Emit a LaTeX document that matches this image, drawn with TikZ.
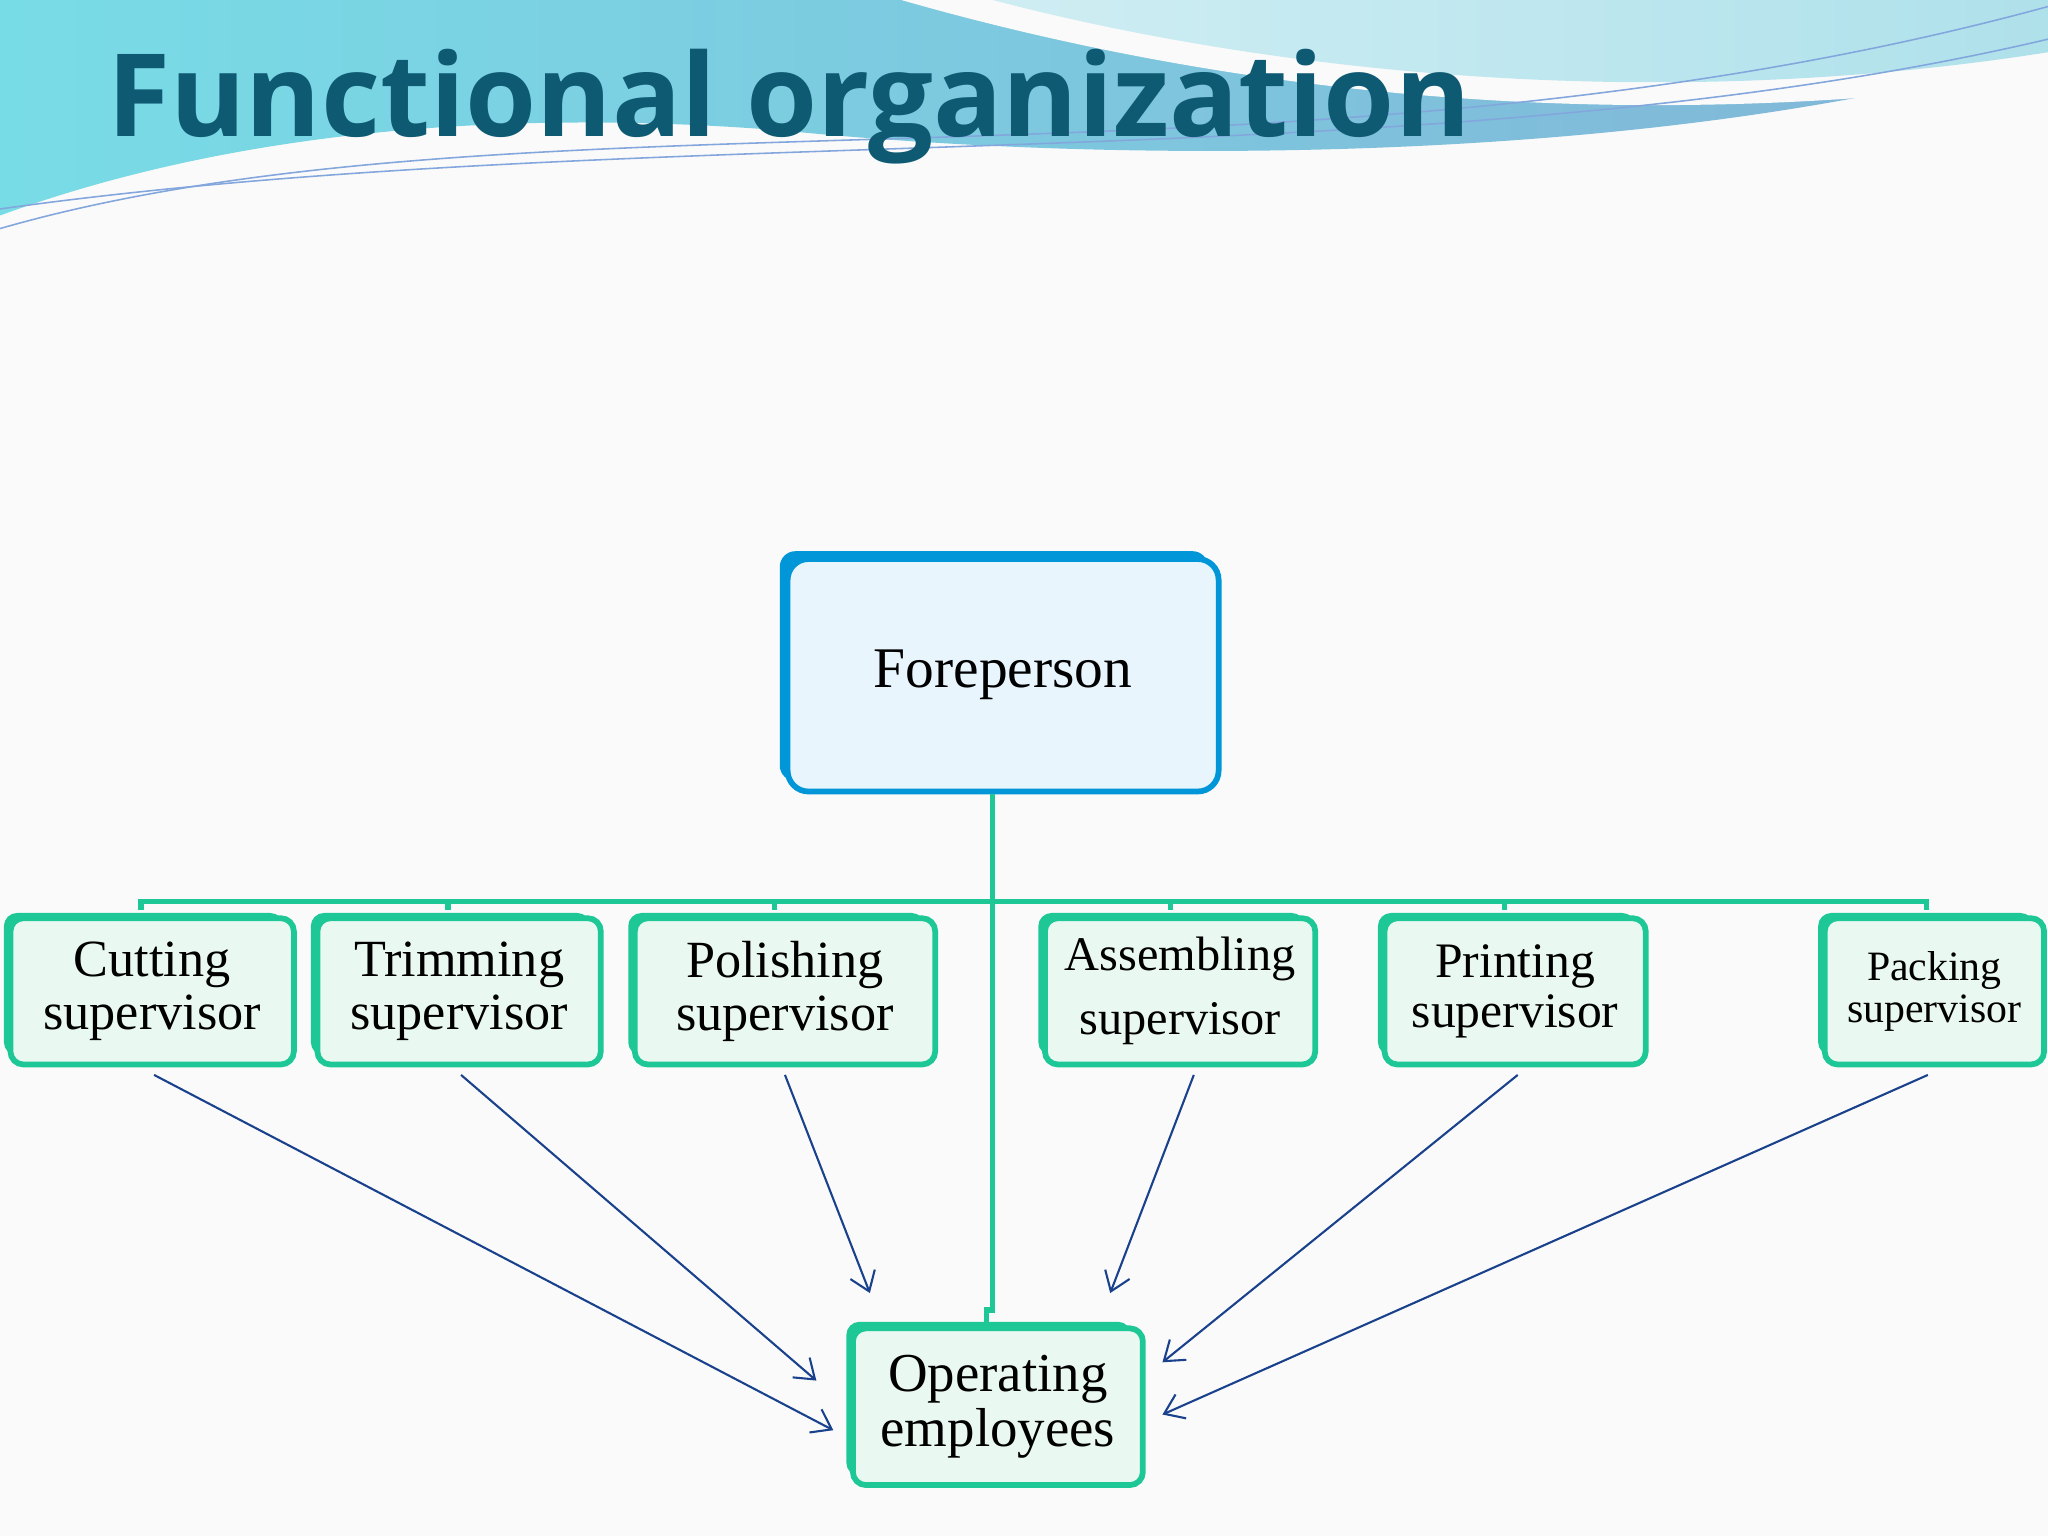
\documentclass[tikz,border=0pt]{standalone}
\usepackage{fontspec}
\setmainfont{Liberation Serif}
\newfontfamily\titlefont{Open Sans}
\usetikzlibrary{arrows.meta}
\definecolor{teal1}{RGB}{30,200,150}
\definecolor{bluebd}{RGB}{0,150,215}
\definecolor{bluefill}{RGB}{232,245,252}
\definecolor{greenfill}{RGB}{234,248,242}
\definecolor{arrowc}{RGB}{25,65,140}
\definecolor{titlec}{RGB}{15,90,115}
\definecolor{wave1}{RGB}{120,220,230}
\definecolor{wave2}{RGB}{130,180,215}
\definecolor{wave3}{RGB}{175,225,235}
\tikzset{
  sup/.style={draw=teal1, line width=2.2pt, fill=greenfill, rounded corners=5pt, align=center, inner sep=0pt},
  arr/.style={draw=arrowc, line width=0.8pt, -{Straight Barb[length=7pt,width=10pt]}},
  conn/.style={draw=teal1, line width=2pt}
}
\begin{document}
\begin{tikzpicture}[x=0.5pt,y=-0.5pt]
\fill[white!96!gray] (0,0) rectangle (1568,1176);
\useasboundingbox (0,0) rectangle (1568,1176);
% top wave
\shade[left color=wave1, right color=wave2] (0,0) -- (1568,0) -- (1568,40) .. controls (1300,120) and (900,130) .. (600,100) .. controls (350,80) and (150,110) .. (0,165) -- cycle;
\fill[white!96!gray] (690,0) .. controls (900,60) and (1200,110) .. (1568,60) -- (1568,0) -- cycle;
\shade[left color=wave3!60!white, right color=wave3] (760,0) .. controls (950,50) and (1250,90) .. (1568,40) -- (1568,0) -- cycle;
\draw[cyan!50!blue!50, line width=0.6pt] (0,175) .. controls (400,60) and (1000,160) .. (1568,5);
\draw[cyan!50!blue!50, line width=0.6pt] (0,160) .. controls (500,90) and (1100,140) .. (1568,30);
\node[anchor=west, font=\titlefont\bfseries\fontsize{44}{44}\selectfont, text=titlec] (title) at (75,82) {Functional organization};
% foreperson
\fill[bluebd, rounded corners=6pt] (597,422) rectangle (925,598);
\node[draw=bluebd, line width=2.2pt, fill=bluefill, rounded corners=8pt, minimum width=165pt, minimum height=89pt, font=\fontsize{22}{22}\selectfont] (fore) at (768,517) {Foreperson};
% supervisors
\foreach \n/\xa/\xb/\fs/\t in {cut/8/225/20/{Cutting\\supervisor}, trim/243/460/20/{Trimming\\supervisor}, pol/486/716/20/{Polishing\\supervisor}, ass/800/1007/18.5/{Assembling\\[6pt]supervisor}, pri/1060/1260/19/{Printing\\supervisor}, pac/1397/1565/16/{Packing\\supervisor}}{
  \fill[teal1, rounded corners=5pt] (\xa-5,699) rectangle (\xb-8,808);
  \node[sup, minimum width={(\xb-\xa)*0.5pt}, minimum height=56pt, font=\fontsize{\fs}{\fs}\selectfont] (\n) at ({(\xa+\xb)/2},759) {\t};
}
% operating
\fill[teal1, rounded corners=5pt] (648,1012) rectangle (866,1130);
\node[sup, minimum width=111pt, minimum height=60pt, font=\fontsize{21}{21}\selectfont] (op) at (764,1077) {Operating\\employees};
% connectors
\coordinate (bar) at (760,690);
\draw[conn] (fore.south -| bar) -- (760,1003) -- (755,1003) -- (755,1012);
\draw[conn] (108,697) -- (108,690) -- (1475,690) -- (1475,697);
\foreach \x in {343,593,896,1152} \draw[conn] (\x,690) -- (\x,697);
% arrows
\coordinate (e1) at (638,1095); \coordinate (e2) at (625,1057); \coordinate (e3) at (666,990);
\coordinate (e4) at (850,990); \coordinate (e5) at (890,1043); \coordinate (e6) at (890,1083);
\draw[arr] (118,823) -- (e1);
\draw[arr] (353,823) -- (e2);
\draw[arr] (601,823) -- (e3);
\draw[arr] (914,823) -- (e4);
\draw[arr] (1162,823) -- (e5);
\draw[arr] (1476,823) -- (e6);
\end{tikzpicture}
\end{document}
